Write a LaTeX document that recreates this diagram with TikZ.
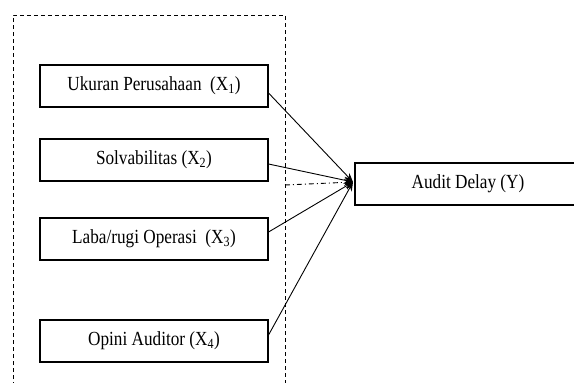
\documentclass[tikz,border=0pt]{standalone}
\usepackage{fontspec}
\setmainfont{Liberation Serif}[FakeStretch=0.86]
\usetikzlibrary{arrows.meta}
\begin{document}
\begin{tikzpicture}[x=1pt,y=-1pt,
  varbox/.style={draw, line width=1.1pt, minimum width=228pt, minimum height=42pt, inner sep=0pt, font=\fontsize{20}{22}\selectfont},
  conn/.style={line width=0.9pt, -{Stealth[length=9pt,width=7pt]}},
  frame/.style={dashed, line width=0.8pt, dash pattern=on 4pt off 3pt}]
\useasboundingbox (0,0) rectangle (574,383);
\draw[frame] (13,400) -- (13,15) -- (285,15) -- (285,400);
\node[varbox] (x1) at (154,86) {Ukuran Perusahaan\ \ (X\textsubscript{1})};
\node[varbox] (x2) at (154,160) {Solvabilitas (X\textsubscript{2})};
\node[varbox] (x3) at (154,239) {Laba/rugi Operasi\ \ (X\textsubscript{3})};
\node[varbox] (x4) at (154,341) {Opini Auditor (X\textsubscript{4})};
\node[varbox, minimum width=226pt] (y) at (468,184) {Audit Delay (Y)};
\coordinate (tip) at (353,182);
\coordinate (dd) at (285,185);
\draw[conn] ([yshift=-7pt]x1.east) -- (tip);
\draw[conn] ([yshift=-4pt]x2.east) -- (tip);
\draw[conn] ([yshift=7pt]x3.east) -- (tip);
\draw[conn] ([yshift=6pt]x4.east) -- (tip);
\draw[conn, dash pattern=on 5pt off 3pt on 1pt off 3pt] (dd) -- (tip);
\end{tikzpicture}
\end{document}
